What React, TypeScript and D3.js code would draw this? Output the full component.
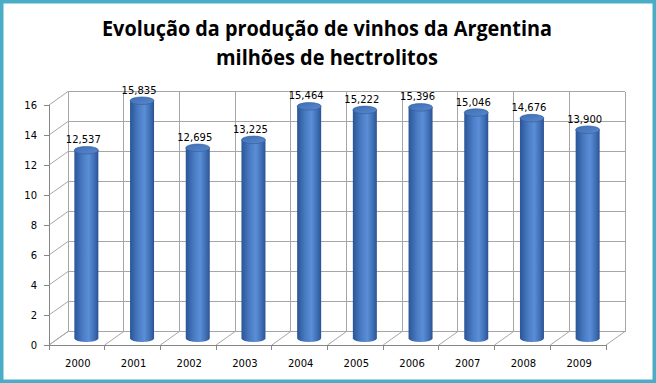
import React from "react";
import * as d3 from "d3";

const years = ["2000", "2001", "2002", "2003", "2004", "2005", "2006", "2007", "2008", "2009"];
const production = [12.537, 15.835, 12.695, 13.225, 15.464, 15.222, 15.396, 15.046, 14.676, 13.9];
const valueLabels = ["12,537", "15,835", "12,695", "13,225", "15,464", "15,222", "15,396", "15,046", "14,676", "13,900"];
const yTicks = [0, 2, 4, 6, 8, 10, 12, 14, 16];
const titleLines = ["Evolução da produção de vinhos da Argentina", "milhões de hectrolitos"];

const W = 656;
const H = 383;
const DX = 19;
const DY = -13.5;

export default function App() {
  const x = d3.scaleBand<string>().domain(years).range([49, 606]).padding(0);
  const y = d3.scaleLinear().domain([0, 16]).range([345, 105]);
  const bw = x.bandwidth();
  const edges = d3.range(years.length + 1).map((i) => 49 + i * bw);
  const barW = 24;
  const ry = 3.8;
  const grid = "#a6a6a6";
  const axis = "#868686";

  return (
    <svg width={W} height={H} style={{ position: "absolute", left: 0, top: 0, background: "#fff" }}>
      <defs>
        <linearGradient id="cyl" x1="0" x2="1" y1="0" y2="0">
          <stop offset="0" stopColor="#2a5597" />
          <stop offset="0.35" stopColor="#4a7cc4" />
          <stop offset="0.6" stopColor="#5b8ed6" />
          <stop offset="0.85" stopColor="#3d6db3" />
          <stop offset="1" stopColor="#2b5292" />
        </linearGradient>
        <linearGradient id="cylTop" x1="0" x2="1" y1="0" y2="1">
          <stop offset="0" stopColor="#3f6eb5" />
          <stop offset="1" stopColor="#5a88cc" />
        </linearGradient>
      </defs>
      <rect x={0} y={0} width={W} height={H} fill="#fff" />
      <rect x={1.75} y={1.75} width={W - 3.5} height={H - 3.5} fill="none" stroke="#4bacc6" strokeWidth={3.5} />

      {titleLines.map((t, i) => (
        <text
          key={i}
          x={327}
          y={i === 0 ? 36 : 65}
          textAnchor="middle"
          fontFamily="'Open Sans', 'Noto Sans', sans-serif"
          fontWeight="bold"
          fontSize={21}
          textLength={i === 0 ? 450 : 222}
          lengthAdjust="spacingAndGlyphs"
          fill="#000"
        >
          {t}
        </text>
      ))}

      {/* back wall */}
      <g stroke={grid} strokeWidth={1} fill="none" shapeRendering="crispEdges">
        {yTicks.map((t) => (
          <line key={"bh" + t} x1={49 + DX} x2={606 + DX} y1={y(t) + DY} y2={y(t) + DY} />
        ))}
        {edges.map((e, i) => (
          <line key={"bv" + i} x1={e + DX} x2={e + DX} y1={y(16) + DY} y2={y(0) + DY} />
        ))}
      </g>
      {/* side wall & floor diagonals */}
      <g stroke={grid} strokeWidth={1} fill="none">
        {yTicks.map((t) => (
          <line key={"sd" + t} x1={49} x2={49 + DX} y1={y(t)} y2={y(t) + DY} />
        ))}
        {edges.map((e, i) => (
          <line key={"fd" + i} x1={e} x2={e + DX} y1={y(0)} y2={y(0) + DY} />
        ))}
      </g>
      {/* front axes */}
      <g stroke={axis} strokeWidth={1} shapeRendering="crispEdges">
        <line x1={49} x2={49} y1={y(16)} y2={y(0)} />
        <line x1={49} x2={606} y1={y(0)} y2={y(0)} />
        {yTicks.map((t) => (
          <line key={"yt" + t} x1={44} x2={49} y1={y(t)} y2={y(t)} />
        ))}
        {edges.map((e, i) => (
          <line key={"xt" + i} x1={e} x2={e} y1={y(0)} y2={y(0) + 5} />
        ))}
      </g>

      {/* bars */}
      {years.map((yr, i) => {
        const cx = (x(yr) as number) + bw / 2 + DX / 2;
        const yb = y(0) + DY / 2;
        const yt = y(production[i]) + DY / 2;
        return (
          <g key={yr}>
            <path
              d={`M${cx - barW / 2},${yt} L${cx - barW / 2},${yb} A${barW / 2},${ry} 0 0 0 ${cx + barW / 2},${yb} L${cx + barW / 2},${yt} Z`}
              fill="url(#cyl)"
            />
            <ellipse cx={cx} cy={yt} rx={barW / 2} ry={ry} fill="url(#cylTop)" stroke="#2f5a9c" strokeWidth={0.6} />
            <text
              x={cx - 3}
              y={yt - 7}
              textAnchor="middle"
              fontFamily="'DejaVu Sans', sans-serif"
              fontSize={10}
              fill="#000"
            >
              {valueLabels[i]}
            </text>
          </g>
        );
      })}

      {/* tick labels */}
      {yTicks.map((t) => (
        <text key={"yl" + t} x={37} y={y(t) + 4} textAnchor="end" fontFamily="'DejaVu Sans', sans-serif" fontSize={10} fill="#000">
          {t}
        </text>
      ))}
      {years.map((yr) => (
        <text
          key={"xl" + yr}
          x={(x(yr) as number) + bw / 2 + 1}
          y={367}
          textAnchor="middle"
          fontFamily="'DejaVu Sans', sans-serif"
          fontSize={10}
          fill="#000"
        >
          {yr}
        </text>
      ))}
    </svg>
  );
}
